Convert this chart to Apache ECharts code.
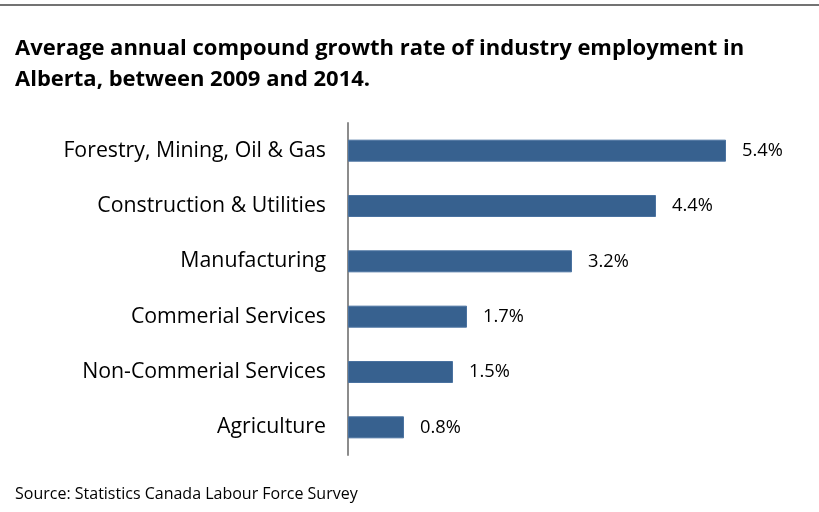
<!DOCTYPE html>
<html>
<head>
<meta charset="utf-8">
<script src="https://cdn.jsdelivr.net/npm/echarts@6/dist/echarts.min.js"></script>
<style>
  html, body { margin: 0; padding: 0; background: #fff; }
  #chart { width: 819px; height: 512px; }
</style>
</head>
<body>
<div id="chart"></div>
<script>
// Industries, listed bottom-to-top for the category axis
const industries = [
  'Agriculture',
  'Non-Commerial Services',
  'Commerial Services',
  'Manufacturing',
  'Construction & Utilities',
  'Forestry, Mining, Oil & Gas'
];
// Average annual compound growth rate, percent
const growthRates = [0.8, 1.5, 1.7, 3.2, 4.4, 5.4];

const titleText = 'Average annual compound growth rate of industry employment in\nAlberta, between 2009 and 2014.';
const sourceText = 'Source: Statistics Canada Labour Force Survey';

const font = '"Open Sans", sans-serif';
const chart = echarts.init(document.getElementById('chart'));

chart.setOption({
  animation: false,
  backgroundColor: '#ffffff',
  title: [
    {
      text: titleText,
      left: 10,
      top: 28,
      textStyle: { fontFamily: font, fontSize: 22, fontWeight: 'bold', color: '#000', lineHeight: 31 }
    },
    {
      text: sourceText,
      left: 10,
      top: 481,
      textStyle: { fontFamily: font, fontSize: 16, fontWeight: 'normal', color: '#000' }
    }
  ],
  graphic: [
    { type: 'line', shape: { x1: 0, y1: 5, x2: 819, y2: 5 }, style: { stroke: '#444', lineWidth: 1.5 } }
  ],
  grid: { left: 348, top: 123, width: 420, height: 332 },
  xAxis: {
    type: 'value',
    min: 0,
    max: 6,
    show: false
  },
  yAxis: {
    type: 'category',
    data: industries,
    axisLine: { show: true, lineStyle: { color: '#8c8c8c', width: 2 } },
    axisTick: { show: false },
    axisLabel: { fontFamily: font, fontSize: 21.3, color: '#000', margin: 22 }
  },
  series: [{
    type: 'bar',
    data: growthRates,
    barWidth: 22,
    itemStyle: { color: '#37618f', borderColor: '#4a72a0', borderWidth: 1 },
    label: {
      show: true,
      position: 'right',
      distance: 16,
      fontFamily: font,
      fontSize: 18.3,
      color: '#000',
      formatter: p => p.value.toFixed(1) + '%'
    }
  }]
});
</script>
</body>
</html>
